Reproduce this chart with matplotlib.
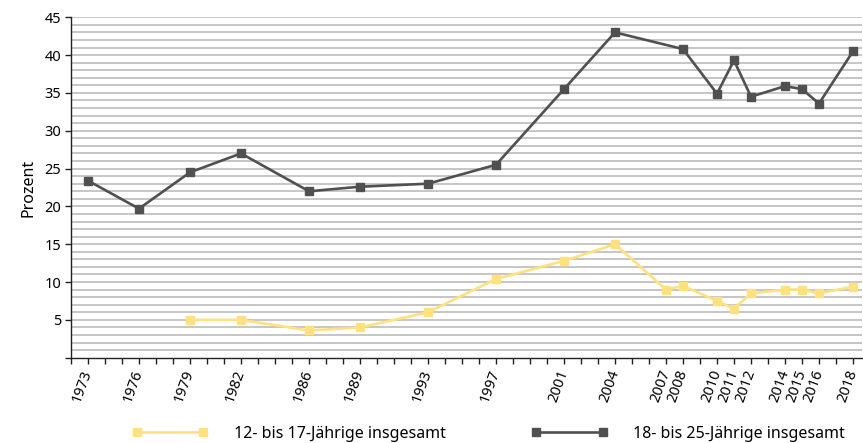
import matplotlib
matplotlib.use("Agg")
import matplotlib.pyplot as plt
import numpy as np

plt.rcParams['font.family'] = ['Noto Sans', 'DejaVu Sans']

years_young = [1979, 1982, 1986, 1989, 1993, 1997, 2001, 2004, 2007, 2008,
               2010, 2011, 2012, 2014, 2015, 2016, 2018]
young = [5.0, 5.0, 3.6, 4.0, 6.0, 10.4, 12.8, 15.0, 9.0, 9.5,
         7.5, 6.5, 8.5, 9.0, 9.0, 8.5, 9.4]

years_adult = [1973, 1976, 1979, 1982, 1986, 1989, 1993, 1997, 2001, 2004,
               2008, 2010, 2011, 2012, 2014, 2015, 2016, 2018]
adult = [23.4, 19.7, 24.5, 27.0, 22.0, 22.6, 23.0, 25.5, 35.5, 43.0,
         40.8, 34.9, 39.3, 34.5, 35.9, 35.5, 33.6, 40.5]

tick_years = [1973, 1976, 1979, 1982, 1986, 1989, 1993, 1997, 2001, 2004,
              2007, 2008, 2010, 2011, 2012, 2014, 2015, 2016, 2018]

label_young = "12- bis 17-Jährige insgesamt"
label_adult = "18- bis 25-Jährige insgesamt"
ylabel = "Prozent"

c_young = "#FFE27F"
c_adult = "#505050"

fig = plt.figure(figsize=(8.63, 4.43), dpi=100)
ax = fig.add_axes([71 / 863, 0.1926, (861.5 - 71) / 863, 0.961 - 0.1926])

# fine horizontal grid at every percentage point
for v in range(1, 46):
    ax.axhline(v, color="#c2c2c2", lw=1.3, zorder=0)

ax.plot(years_young, young, color=c_young, lw=1.9, marker="s", ms=6,
        mec=c_young, mfc=c_young, label=label_young, zorder=3)
ax.plot(years_adult, adult, color=c_adult, lw=1.9, marker="s", ms=6,
        mec=c_adult, mfc=c_adult, label=label_adult, zorder=3)

ax.set_xlim(1972, 2018.5)
ax.set_ylim(0, 45)

ax.set_yticks(np.arange(0, 46, 5))
ax.set_yticklabels([""] + [str(v) for v in range(5, 46, 5)], fontsize=10.5)
ax.set_xticks(np.arange(1972, 2019))
ax.set_xticklabels([str(y) if y in tick_years else "" for y in range(1972, 2019)],
                   fontsize=10.5, rotation=70, ha="right", va="center",
                   rotation_mode="anchor")
ax.tick_params(axis="x", length=4, width=1, pad=5, color="#222222")
ax.tick_params(axis="y", length=4, width=1, pad=3, color="#222222")

for s in ["top", "right"]:
    ax.spines[s].set_visible(False)
for s in ["left", "bottom"]:
    ax.spines[s].set_color("#222222")
    ax.spines[s].set_linewidth(1.0)

ax.set_ylabel(ylabel, fontsize=11.5, labelpad=6)

fig.legend(loc="lower center", bbox_to_anchor=(0.566, -0.03), ncol=2,
           frameon=False, fontsize=11.5, handlelength=4.75, numpoints=2,
           handletextpad=1.6, columnspacing=5.4)

fig.savefig("out.png", dpi=100)
